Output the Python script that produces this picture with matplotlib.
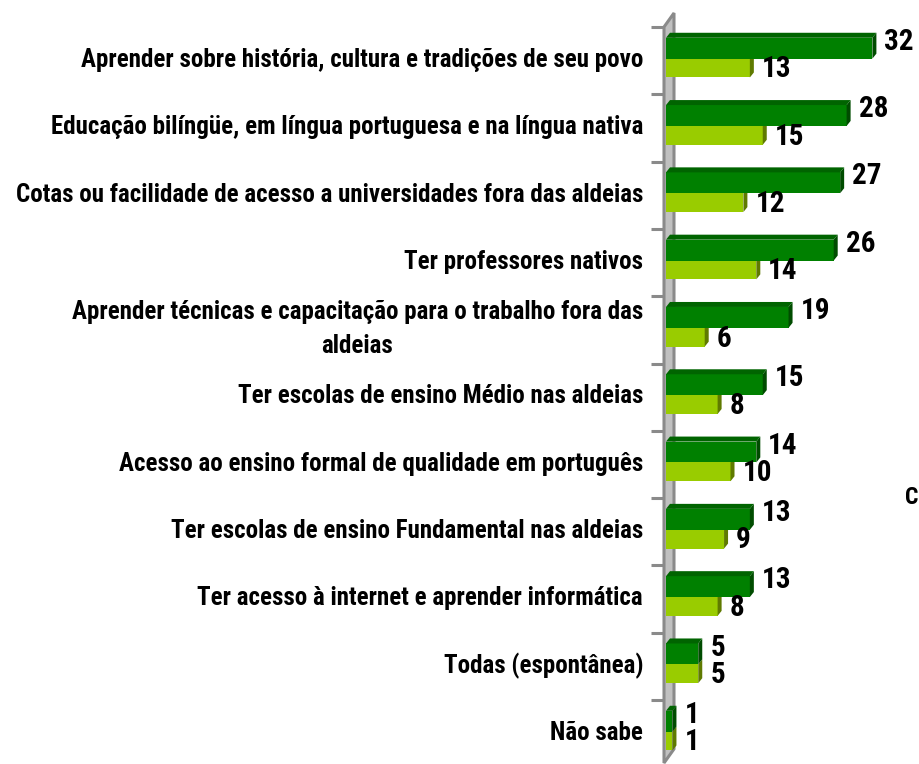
import matplotlib
matplotlib.use("Agg")
import matplotlib.pyplot as plt
from matplotlib.patches import Polygon

plt.rcParams['font.family'] = ['Liberation Sans Narrow', 'Arial Narrow', 'Roboto Condensed',
                               'PT Sans Narrow', 'Archivo Narrow', 'DejaVu Sans']

# ── Data ──
categories = [
    "Aprender sobre história, cultura e tradições de seu povo",
    "Educação bilíngüe, em língua portuguesa e na língua nativa",
    "Cotas ou facilidade de acesso a universidades fora das aldeias",
    "Ter professores nativos",
    "Aprender técnicas e capacitação para o trabalho fora das\naldeias",
    "Ter escolas de ensino Médio nas aldeias",
    "Acesso ao ensino formal de qualidade em português",
    "Ter escolas de ensino Fundamental nas aldeias",
    "Ter acesso à internet e aprender informática",
    "Todas (espontânea)",
    "Não sabe",
]
serie_escura = [32, 28, 27, 26, 19, 15, 14, 13, 13, 5, 1]
serie_clara = [13, 15, 12, 14, 6, 8, 10, 9, 8, 5, 1]

# ── Layout (pixels of the 920x764 canvas) ──
W, H = 920, 764
X0, PX = 666, 6.45      # x of value 0, px per unit
Y0, ROW = 27, 67.3      # y of first category boundary, px per category
DX, DY = 4 / PX, 5 / ROW  # 3D depth offset in data units

DARK = ("#008000", "#006400", "#004c00")    # front, top, side
LIGHT = ("#99cc00", "#88b400", "#5f7a00")
WALL_FILL, WALL_EDGE = "#c0c0c0", "#8a8a8a"

fig = plt.figure(figsize=(W / 100, H / 100), dpi=100)
ax = fig.add_axes([0, 0, 1, 1])
ax.set_xlim(-X0 / PX, (W - X0) / PX)
ax.set_ylim((H - Y0) / ROW, -Y0 / ROW)
ax.axis("off")

# back wall (3D)
wl, wr = (664 - X0) / PX, (674 - X0) / PX
wall = Polygon([(wl, 0), (wr, -14 / ROW), (wr, (749 - Y0) / ROW), (wl, (763 - Y0) / ROW)],
               closed=True, facecolor=WALL_FILL, edgecolor=WALL_EDGE, lw=2.2, zorder=1)
ax.add_patch(wall)

# tick marks
n = len(categories)
for k in range(n):
    ax.plot([(651 - X0) / PX, wl], [k, k], color=WALL_EDGE, lw=2.2, zorder=1,
            solid_capstyle="butt")


def bar3d(y_top, y_bot, v, cols, top=True):
    ax.add_patch(Polygon([(0, y_top), (v, y_top), (v, y_bot), (0, y_bot)],
                         closed=True, facecolor=cols[0], edgecolor="none", zorder=3))
    ax.add_patch(Polygon([(v, y_top), (v + DX, y_top - DY), (v + DX, y_bot - DY), (v, y_bot)],
                         closed=True, facecolor=cols[2], edgecolor="none", zorder=3))
    if top:
        ax.add_patch(Polygon([(0, y_top), (v, y_top), (v + DX, y_top - DY), (DX, y_top - DY)],
                             closed=True, facecolor=cols[1], edgecolor="none", zorder=3))


for i in range(n):
    d, c = serie_escura[i], serie_clara[i]
    # light bar first, dark bar on top covers the hidden part
    bar3d(i + 0.47, i + 0.75, c, LIGHT, top=False)
    bar3d(i + 0.16, i + 0.47, d, DARK)

    ax.text(-23 / PX, i + 0.49, categories[i], ha="right", va="center",
            multialignment="center", fontsize=18, fontweight="bold",
            linespacing=1.5, zorder=4)
    ax.text(d + 12 / PX, i + 0.22, str(d), ha="left", va="center",
            fontsize=21, fontweight="bold", zorder=4)
    ax.text(c + 12 / PX, i + 0.63, str(c), ha="left", va="center",
            fontsize=21, fontweight="bold", zorder=4)

# truncated legend/title at the right edge
ax.text((905 - X0) / PX, (497 - Y0) / ROW, "C", ha="left", va="center",
        fontsize=17, fontweight="bold")

fig.savefig("out.png", dpi=100, facecolor="white")
